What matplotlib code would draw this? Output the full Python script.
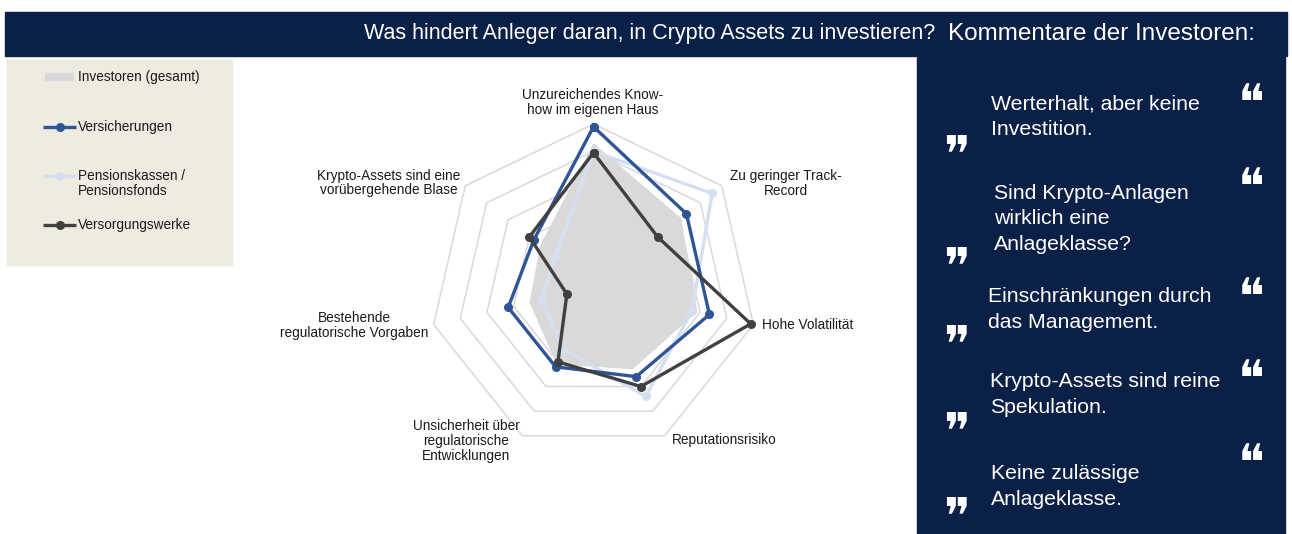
import numpy as np
import matplotlib
matplotlib.use("Agg")
import matplotlib.pyplot as plt
from matplotlib.patches import Rectangle

# --- data ---
categories = ["Unzureichendes Know-\nhow im eigenen Haus", "Zu geringer Track-\nRecord",
              "Hohe Volatilität", "Reputationsrisiko",
              "Unsicherheit über\nregulatorische\nEntwicklungen",
              "Bestehende\nregulatorische Vorgaben",
              "Krypto-Assets sind eine\nvorübergehende Blase"]
investoren_gesamt = [53, 41, 39, 33, 31, 24, 25]
versicherungen = [59, 43.5, 43.5, 36, 32, 32, 28]
pensionskassen = [50, 55.5, 37, 44, 25, 19.5, 18]
versorgungswerke = [49.5, 30, 59, 40, 30, 10, 30]
grid_levels = [10, 20, 30, 40, 50, 60]

series_names = ["Investoren (gesamt)", "Versicherungen", "Pensionskassen /\nPensionsfonds", "Versorgungswerke"]

quotes = ["Werterhalt, aber keine\nInvestition.",
          "Sind Krypto-Anlagen\nwirklich eine\nAnlageklasse?",
          "Einschränkungen durch\ndas Management.",
          "Krypto-Assets sind reine\nSpekulation.",
          "Keine zulässige\nAnlageklasse."]

title_left = "Was hindert Anleger daran, in Crypto Assets zu investieren?"
title_right = "Kommentare der Investoren:"

NAVY = "#0A2046"
BLUE = "#2F5597"
LIGHT = "#D5DFF2"
DARK = "#404040"
GRAY = "#D9D9D9"
BEIGE = "#EEEBE1"

plt.rcParams["font.family"] = ["Liberation Sans", "DejaVu Sans"]

W, H = 1292, 534
fig = plt.figure(figsize=(W / 100, H / 100), dpi=100)


def fx(x):
    return x / W


def fy(y):
    return 1 - y / H


# background panels (below the axes)
fig.patches.append(Rectangle((fx(5), fy(56)), fx(1287) - fx(5), (56 - 12) / H,
                             transform=fig.transFigure, color=NAVY, zorder=-2))
fig.patches.append(Rectangle((fx(917), 0), fx(1285) - fx(917), (534 - 57) / H,
                             transform=fig.transFigure, color=NAVY, zorder=-2))
fig.patches.append(Rectangle((fx(7), fy(265)), fx(232) - fx(7), (265 - 60) / H,
                             transform=fig.transFigure, color=BEIGE, zorder=-2))

fig.text(fx(935), fy(34), title_left, ha="right", va="center", color="white", fontsize=15.5)
fig.text(fx(948), fy(34), title_right, ha="left", va="center", color="white", fontsize=17.5)

# --- radar ---
cx, cy, R = 593.5, 288, 164
ax = fig.add_axes([fx(cx - R), fy(cy + R), 2 * R / W, 2 * R / H], projection="polar")
ax.set_theta_offset(np.pi / 2)
ax.set_theta_direction(-1)
ax.set_ylim(0, max(grid_levels))
ax.set_axis_off()

n = len(categories)
theta = np.linspace(0, 2 * np.pi, n, endpoint=False)
tc = np.append(theta, theta[0])


def closed(v):
    return np.append(v, v[0])


for lvl in grid_levels:
    ax.plot(tc, [lvl] * (n + 1), color=GRAY, lw=1.1, zorder=1, clip_on=False)

ax.fill(tc, closed(investoren_gesamt), color=GRAY, lw=0, zorder=2)
for vals, col in [(pensionskassen, LIGHT), (versicherungen, BLUE), (versorgungswerke, DARK)]:
    ax.plot(tc, closed(vals), color=col, lw=2.4, marker="o", ms=5.5, zorder=3, clip_on=False)

label_pos = [(593, 102.5, "center"), (786, 183.5, "center"), (762, 325, "left"),
             (724, 440, "center"), (466, 441, "center"), (354, 325.5, "center"),
             (389, 183, "center")]
for lab, (x, y, ha) in zip(categories, label_pos):
    fig.text(fx(x), fy(y), lab, ha=ha, va="center", ma="center", fontsize=9.8,
             color="#1A1A1A", linespacing=1.08)

# --- legend ---
lax = fig.add_axes([fx(7), fy(265), (232 - 7) / W, (265 - 60) / H])
lax.set_xlim(7, 232)
lax.set_ylim(265, 60)
lax.set_axis_off()
leg_y = [77, 127, 176, 225]
lax.plot([45, 74], [leg_y[0]] * 2, color=GRAY, lw=6, solid_capstyle="butt")
for yy, col in zip(leg_y[1:], [BLUE, LIGHT, DARK]):
    lax.plot([43, 76], [yy] * 2, color=col, lw=2.4, solid_capstyle="butt")
    lax.plot([59.5], [yy], color=col, marker="o", ms=5.5)
for yy, name in zip(leg_y, series_names):
    parts = name.split("\n")
    for k, part in enumerate(parts):
        lax.text(78, yy + 15 * k, part, ha="left", va="center", fontsize=9.8, color="#1A1A1A")

# --- quotes panel ---
q_text_pos = [(991, 116.5), (994, 219), (988, 309.5), (990, 394.5), (991, 486.5)]
q_open = [93, 176, 286, 369, 452]
q_close = [143, 255, 333, 420, 505]
QS = 36  # pt
qpx = QS * 100 / 72
for q, (x, y), yo, yc in zip(quotes, q_text_pos, q_open, q_close):
    fig.text(fx(x), fy(y), q, ha="left", va="center", color="white", fontsize=15.3, linespacing=1.44)
    fig.text(fx(1251), fy(yo + 0.55 * qpx), "\u275d", ha="center", va="baseline", color="white",
             fontsize=QS, family="DejaVu Sans")
    fig.text(fx(957), fy(yc + 0.55 * qpx), "\u275e", ha="center", va="baseline", color="white",
             fontsize=QS, family="DejaVu Sans")

fig.savefig("out.png", dpi=100, facecolor="white")
